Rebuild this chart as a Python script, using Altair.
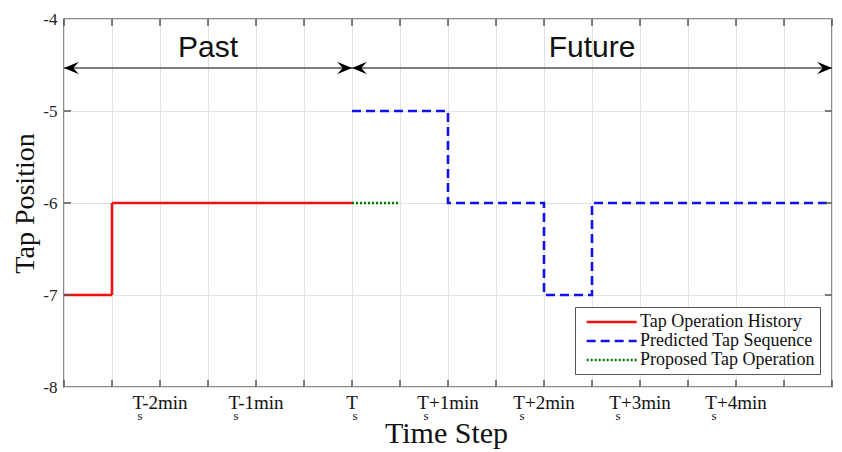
import altair as alt
import pandas as pd

# ---------------- data ----------------
series_names = ["Tap Operation History", "Predicted Tap Sequence", "Proposed Tap Operation"]
series_colors = ["#ee1111", "#1111ee", "#007a00"]
series_dash = [[1, 0], [9, 5], [2, 2]]

hist_x = [0, 1, 6]
hist_y = [-7, -6, -6]
pred_x = [6, 8, 10, 11, 16]
pred_y = [-5, -6, -7, -6, -6]
prop_x = [6, 7]
prop_y = [-6, -6]

tick_values = list(range(0, 17))
y_ticks = [-8, -7, -6, -5, -4]
y_inner = [-7, -6, -5]

label_values = [2, 4, 6, 8, 10, 12, 14]
label_suffix = ["-2min", "-1min", "", "+1min", "+2min", "+3min", "+4min"]

region_labels = ["Past", "Future"]
region_x = [3, 11]
region_y = [-4.31, -4.31]

arrow_start = [0, 6]
arrow_end = [6, 16]
arrow_y = [-4.533, -4.533]

# ---------------- tables ----------------
lines = pd.DataFrame(
    [{"x": x, "y": y, "series": series_names[0]} for x, y in zip(hist_x, hist_y)]
    + [{"x": x, "y": y, "series": series_names[1]} for x, y in zip(pred_x, pred_y)]
    + [{"x": x, "y": y, "series": series_names[2]} for x, y in zip(prop_x, prop_y)]
)
ticks_df = pd.DataFrame({"t": tick_values})
yin_df = pd.DataFrame({"v": y_inner})
labels_df = pd.DataFrame({"v": label_values, "suffix": label_suffix})
labels_df["main"] = "T" + labels_df["suffix"]
regions_df = pd.DataFrame({"label": region_labels, "x": region_x, "y": region_y})
arrows_df = pd.DataFrame({"x": arrow_start, "x2": arrow_end, "y": arrow_y})
left_heads = pd.DataFrame({"x": arrow_start, "y": arrow_y})
right_heads = pd.DataFrame({"x": arrow_end, "y": arrow_y})

W, H = 768, 368
SERIF = "Liberation Serif"
SANS = "Liberation Sans"

xscale = alt.Scale(domain=[0, 16], nice=False, zero=False)
yscale = alt.Scale(domain=[-8, -4], nice=False, zero=False)

x_axis = alt.Axis(
    values=tick_values, labels=False, ticks=False, domain=False, grid=True,
    gridColor="#e2e2e2", gridWidth=1, title="Time Step",
    titleFont=SERIF, titleFontSize=30, titleFontWeight="normal", titleColor="#111",
    titleX=382, titleY=55, titleBaseline="alphabetic",
)
y_axis = alt.Axis(
    values=y_ticks, labelExpr="'' + datum.value", ticks=False, domain=False, grid=True,
    gridColor="#e2e2e2", gridWidth=1, labelFont=SERIF, labelFontSize=17,
    labelColor="#222", labelPadding=7, title="Tap Position",
    titleFont=SERIF, titleFontSize=28, titleFontWeight="normal", titleColor="#111",
    titleX=-31, titleY=184, titleBaseline="alphabetic", titleAngle=270,
)

# wide horizontal stroke used as the legend line sample
LEGEND_LINE = "M-0.4,0 L5.6,0"

base_lines = alt.Chart(lines).mark_line(interpolate="step-after", strokeWidth=2.6).encode(
    x=alt.X("x:Q", scale=xscale, axis=x_axis),
    y=alt.Y("y:Q", scale=yscale, axis=y_axis),
    color=alt.Color(
        "series:N",
        scale=alt.Scale(domain=series_names, range=series_colors),
        sort=series_names,
        legend=alt.Legend(
            title=None, orient="none", legendX=511, legendY=288,
            symbolType=LEGEND_LINE, symbolSize=278, symbolStrokeWidth=2.6,
            symbolFillColor="transparent",
            labelFont=SERIF, labelFontSize=18, labelColor="#111", labelOffset=40,
            padding=5, rowPadding=0, strokeColor="#555", fillColor="white",
            labelLimit=400,
        ),
    ),
    strokeDash=alt.StrokeDash(
        "series:N",
        scale=alt.Scale(domain=series_names, range=series_dash),
        sort=series_names,
        legend=alt.Legend(title=None),
    ),
)

top_ticks = alt.Chart(ticks_df).mark_rule(color="#555", strokeWidth=1.5).encode(
    x=alt.X("t:Q", scale=xscale), y=alt.value(0), y2=alt.value(7)
)
bot_ticks = alt.Chart(ticks_df).mark_rule(color="#555", strokeWidth=1.5).encode(
    x=alt.X("t:Q", scale=xscale), y=alt.value(H - 7), y2=alt.value(H)
)
left_ticks = alt.Chart(yin_df).mark_rule(color="#555", strokeWidth=1.5).encode(
    y=alt.Y("v:Q", scale=yscale), x=alt.value(0), x2=alt.value(7)
)
right_ticks = alt.Chart(yin_df).mark_rule(color="#555", strokeWidth=1.5).encode(
    y=alt.Y("v:Q", scale=yscale), x=alt.value(W - 7), x2=alt.value(W)
)

xlabels = alt.Chart(labels_df).mark_text(
    font=SERIF, fontSize=19, color="#111", align="center", baseline="alphabetic"
).encode(x=alt.X("v:Q", scale=xscale), y=alt.value(H + 22), text="main:N")

def sub_layer(cond, dx):
    return alt.Chart(labels_df).transform_filter(cond).mark_text(
        font=SERIF, fontSize=13, color="#111", align="center", baseline="alphabetic", dx=dx
    ).encode(x=alt.X("v:Q", scale=xscale), y=alt.value(H + 33), text=alt.value("s"))

sub_minus = sub_layer("indexof(datum.suffix, '-') >= 0", -20)
sub_plus = sub_layer("indexof(datum.suffix, '+') >= 0", -22)
sub_bare = sub_layer("datum.suffix == ''", 3)

regions = alt.Chart(regions_df).mark_text(
    font=SANS, fontSize=30, color="#111", align="center", baseline="middle"
).encode(x=alt.X("x:Q", scale=xscale), y=alt.Y("y:Q", scale=yscale), text="label:N")

arrow_lines = alt.Chart(arrows_df).mark_rule(color="#555", strokeWidth=1.6).encode(
    x=alt.X("x:Q", scale=xscale), x2="x2:Q", y=alt.Y("y:Q", scale=yscale)
)
LEFT_HEAD = "M0,0 L1,-0.42 L0.62,0 L1,0.42 Z"
RIGHT_HEAD = "M0,0 L-1,-0.42 L-0.62,0 L-1,0.42 Z"
lheads = alt.Chart(left_heads).mark_point(
    shape=LEFT_HEAD, size=900, filled=True, color="black", opacity=1, strokeWidth=0
).encode(x=alt.X("x:Q", scale=xscale), y=alt.Y("y:Q", scale=yscale))
rheads = alt.Chart(right_heads).mark_point(
    shape=RIGHT_HEAD, size=900, filled=True, color="black", opacity=1, strokeWidth=0
).encode(x=alt.X("x:Q", scale=xscale), y=alt.Y("y:Q", scale=yscale))

chart = alt.layer(
    base_lines, top_ticks, bot_ticks, left_ticks, right_ticks,
    arrow_lines, lheads, rheads, regions, xlabels, sub_minus, sub_plus, sub_bare,
).properties(
    width=W, height=H,
    autosize=alt.AutoSizeParams(type="none"),
    padding={"left": 56, "top": 11, "right": 2, "bottom": 64},
    background="white",
).configure_view(
    stroke="#666", strokeWidth=1.5
)

chart.save("out.html", embed_options={"renderer": "svg", "actions": False})
